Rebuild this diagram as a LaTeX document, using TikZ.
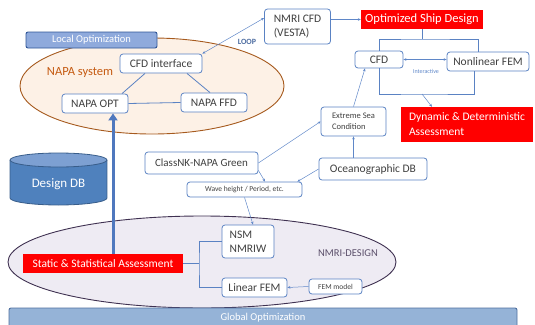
\documentclass[tikz,border=0pt]{standalone}
\usepackage{fontspec}
\setmainfont{Carlito}
\usetikzlibrary{arrows.meta,shapes.geometric,calc}
\definecolor{boxc}{RGB}{90,130,195}
\definecolor{txt}{RGB}{64,64,64}
\definecolor{arr}{RGB}{95,135,200}
\definecolor{napafill}{RGB}{253,241,230}
\definecolor{napaline}{RGB}{166,90,30}
\definecolor{napatxt}{RGB}{197,90,17}
\definecolor{nmrifill}{RGB}{238,235,243}
\definecolor{nmriline}{RGB}{63,49,81}
\definecolor{locfill}{RGB}{143,170,220}
\definecolor{locline}{RGB}{47,85,151}
\definecolor{glofill}{RGB}{149,179,215}
\definecolor{gloline}{RGB}{79,111,159}
\definecolor{dbbody}{RGB}{79,129,189}
\definecolor{dbtop}{RGB}{125,160,210}
\definecolor{dbline}{RGB}{56,93,138}
\definecolor{bigarr}{RGB}{79,120,190}
\tikzset{
  bx/.style={draw=boxc, line width=0.8pt, rounded corners=3pt, fill=white, text=txt, inner sep=1pt, align=center},
  redbx/.style={fill=red, text=white, inner sep=1pt, align=center},
  tarr/.style={draw=arr, line width=0.5pt, -{Stealth[length=3pt,width=2.6pt]}},
  tdarr/.style={draw=arr, line width=0.5pt, {Stealth[length=3pt,width=2.6pt]}-{Stealth[length=3pt,width=2.6pt]}},
  brline/.style={draw=boxc, line width=0.8pt},
  fmain/.style={font=\fontsize{11.5}{13}\selectfont},
}
\begin{document}
\begin{tikzpicture}[x=1pt,y=-1pt]
\useasboundingbox (0,0) rectangle (535,324);
% ellipses
\node[ellipse, draw=napaline, line width=0.9pt, fill=napafill, minimum width=264pt, minimum height=96pt, inner sep=0pt] (napa) at (152,86) {};
\node[ellipse, draw=nmriline, line width=0.9pt, fill=nmrifill, minimum width=388pt, minimum height=92pt, inner sep=0pt] (nmri) at (202,262) {};
% bars
\node[draw=locline, line width=0.9pt, fill=locfill, rounded corners=2pt, minimum width=131pt, minimum height=16pt, inner sep=0pt, text=white, font=\fontsize{10.5}{12}\selectfont] (locopt) at (91.5,40) {Local Optimization};
\node[draw=gloline, line width=0.9pt, fill=glofill, rounded corners=2pt, minimum width=508pt, minimum height=19pt, inner sep=0pt, text=white, font=\fontsize{10.5}{12}\selectfont] (globopt) at (263,317.5) {Global Optimization};
% NAPA
\node[text=napatxt, font=\fontsize{12.5}{14}\selectfont] (napatext) at (80,72) {NAPA system};
\node[bx, fmain, minimum width=82pt, minimum height=19pt] (cfdif) at (161,63.5) {CFD interface};
\node[bx, fmain, minimum width=66pt, minimum height=19pt] (napaopt) at (95,103.5) {NAPA OPT};
\node[bx, fmain, minimum width=66pt, minimum height=19pt] (napaffd) at (214,102.5) {NAPA FFD};
% top right
\node[bx, minimum width=66pt, minimum height=35pt, align=left, font=\fontsize{11.5}{14}\selectfont] (nmricfd) at (297.5,26.5) {NMRI CFD\\(VESTA)};
\node[text=arr!80!black, font=\bfseries\fontsize{8}{9}\selectfont] (loop) at (247,42) {LOOP};
\node[redbx, minimum width=122pt, minimum height=19pt, font=\fontsize{12.5}{14}\selectfont] (osd) at (422,19.5) {Optimized Ship Design};
\node[bx, fmain, minimum width=48pt, minimum height=17pt] (cfd) at (379,59.5) {CFD};
\node[bx, fmain, minimum width=82pt, minimum height=19pt] (nlfem) at (488,61.5) {Nonlinear FEM};
\node[text=arr, font=\fontsize{6}{7}\selectfont] (interact) at (426,71) {Interactive};
\node[redbx, minimum width=132pt, minimum height=35pt, font=\fontsize{11.5}{15}\selectfont] (dyn) at (467,124.5) {\begin{tabular}{@{}l@{}}Dynamic \& Deterministic\\Assessment\end{tabular}};
\node[bx, minimum width=65pt, minimum height=29pt, align=left, font=\fontsize{8.5}{11.5}\selectfont] (extreme) at (353.5,121.5) {Extreme Sea\\Condition};
\node[bx, minimum width=113pt, minimum height=22pt, font=\fontsize{11}{12}\selectfont] (classnk) at (201.5,163) {ClassNK-NAPA Green};
\node[bx, minimum width=115pt, minimum height=15pt, font=\fontsize{7.5}{8}\selectfont] (wave) at (244.5,189.5) {Wave height / Period, etc.};
\node[bx, fmain, minimum width=108pt, minimum height=22pt] (ocean) at (373,169) {Oceanographic DB};
% Design DB cylinder
\fill[dbbody] (10,160) rectangle (107,198);
\fill[dbbody] (58.5,198) ellipse[x radius=48.5, y radius=7];
\draw[dbline, line width=0.8pt] (10,160) -- (10,198) arc[start angle=180, end angle=0, x radius=48.5, y radius=7] -- (107,160);
\filldraw[fill=dbtop, draw=dbline, line width=0.8pt] (58.5,160) ellipse[x radius=48.5, y radius=7];
\node[text=white, font=\fontsize{13}{15}\selectfont] (designdb) at (58.5,184) {Design DB};
% NMRI
\node[text=nmriline!85, font=\fontsize{10.5}{12}\selectfont] (nmritext) at (348,253) {NMRI-DESIGN};
\node[bx, minimum width=52pt, minimum height=33pt, align=left, font=\fontsize{11.5}{14}\selectfont] (nsm) at (248,241.5) {NSM\\NMRIW};
\node[bx, fmain, minimum width=65pt, minimum height=19pt] (linfem) at (254.5,287.5) {Linear FEM};
\node[bx, minimum width=53pt, minimum height=15pt, font=\fontsize{7.5}{8}\selectfont] (femmodel) at (335.5,286.5) {FEM model};
\node[redbx, minimum width=160pt, minimum height=19pt, font=\fontsize{11.5}{13}\selectfont] (static) at (103,263.5) {Static \& Statistical Assessment};
% connectors NAPA
\draw[brline] ([xshift=-16pt]cfdif.south) -- ([xshift=27pt]napaopt.north);
\draw[brline] ([xshift=26pt]cfdif.south) -- ([xshift=-4pt]napaffd.north);
\draw[brline] (napaopt.east) -- (napaffd.west);
\draw[tdarr] ([yshift=8.5pt]nmricfd.west) -- (cfdif.north east);
\draw[tarr] (nmricfd.east |- osd.west) -- (osd.west);
% CFD / FEM bracket
\coordinate (br1) at (422,39);
\coordinate (nltop) at ([xshift=-10pt]nlfem.north);
\draw[brline] (osd.south) -- (br1);
\draw[brline] (cfd.north) |- (br1) -| (nltop);
\draw[tdarr] (cfd.east) -- (nlfem.west |- cfd.east);
\coordinate (br2) at (422,94);
\coordinate (nlbot) at ([xshift=-14pt]nlfem.south);
\draw[brline] (cfd.south) |- (br2) -| (nlbot);
\draw[tarr] (br2) -- ([xshift=-35pt]dyn.north);
% sea condition
\draw[tarr] (extreme.north) -- ([xshift=-14pt]cfd.south);
\draw[tarr] (classnk.east) -- (extreme.west);
\draw[tarr] ([yshift=4pt]classnk.south east) -- ([xshift=20.5pt]wave.north);
\draw[tarr] (ocean.north -| extreme.south) -- (extreme.south);
\draw[tarr] (ocean.west) -- ([xshift=-5pt]wave.north east);
\draw[tarr] (wave.south) -- ([xshift=5pt]nsm.north);
\draw[tarr] (femmodel.west) -- (linfem.east);
% static bracket
\coordinate (sb) at (199,263.5);
\draw[brline] (static.east) -- (sb);
\draw[brline] (nsm.west) -| (sb) |- (linfem.west);
% big arrow
\coordinate (ta) at ([xshift=10pt]static.north);
\draw[draw=bigarr, line width=3pt, -{Triangle[length=7pt,width=9pt]}] (ta) -- (ta |- napaopt.south);
\end{tikzpicture}
\end{document}
